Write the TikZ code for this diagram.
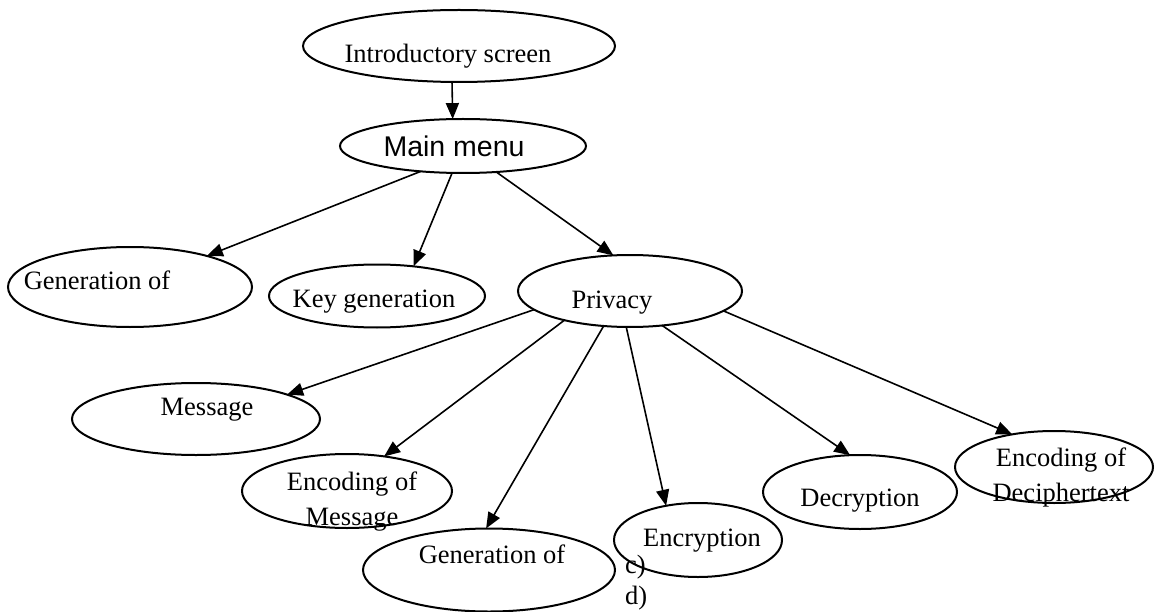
\documentclass[tikz,border=0pt]{standalone}
\usepackage{fontspec}
\setmainfont{Liberation Serif}
\newfontfamily\arialfont{Liberation Sans}
\usetikzlibrary{shapes.geometric,arrows.meta}

\begin{document}
\begin{tikzpicture}[x=1pt,y=-1pt,
  oval/.style={draw=black,line width=2pt,ellipse,inner sep=0pt,outer sep=0pt},
  lbl/.style={anchor=base,inner sep=0pt,font=\fontsize{26.5}{30}\selectfont},
  link/.style={line width=1.6pt,-{Triangle[length=16pt,width=13pt]}}]
\useasboundingbox (0,0) rectangle (1155,612);

% screens
\node[oval,minimum width=312pt,minimum height=72pt] (intro) at (459,46) {};
\node[oval,minimum width=246pt,minimum height=54pt] (main) at (463,146) {};
\node[oval,minimum width=244pt,minimum height=80pt] (gen1) at (130,287) {};
\node[oval,minimum width=216pt,minimum height=63pt] (keygen) at (377,296) {};
\node[oval,minimum width=224pt,minimum height=72pt] (privacy) at (630,291) {};
\node[oval,minimum width=248pt,minimum height=72pt] (message) at (196,419) {};
\node[oval,minimum width=210pt,minimum height=74pt] (encmsg) at (347,491) {};
\node[oval,minimum width=252pt,minimum height=83pt] (gen2) at (489,570) {};
\node[oval,minimum width=168pt,minimum height=74pt] (encryption) at (698,540) {};
\node[oval,minimum width=194pt,minimum height=74pt] (decryption) at (860,492) {};
\node[oval,minimum width=198pt,minimum height=72pt] (encdec) at (1054,467) {};

% captions
\node[lbl] (t-intro) at (448,63) {Introductory screen};
\node[lbl,font=\arialfont\fontsize{28.5}{32}\selectfont] (t-main) at (454,157) {Main menu};
\node[lbl] (t-gen1) at (97,289) {Generation of};
\node[lbl] (t-key) at (374,307) {Key generation};
\node[lbl] (t-priv) at (612,308) {Privacy};
\node[lbl] (t-msg) at (207,415) {Message};
\node[lbl] (t-enc1) at (352,490) {Encoding of};
\node[lbl] (t-enc2) at (352,525) {Message};
\node[lbl] (t-gen2) at (492,563) {Generation of};
\node[lbl] (t-encr) at (702,546) {Encryption};
\node[lbl] (t-decr) at (860,506) {Decryption};
\node[lbl] (t-ed1) at (1061,466) {Encoding of};
\node[lbl] (t-ed2) at (1061,501) {Deciphertext};
\node[lbl,anchor=base west] (t-c) at (625,573) {c)};
\node[lbl,anchor=base west] (t-d) at (625,604) {d)};

% navigation
\draw[link] (intro.-101) -- (main.111);
\draw[link] (main.-149) -- (gen1.22);
\draw[link] (main.-112) -- (keygen.39);
\draw[link] (main.-38.5) -- (privacy.115);
\draw[link] (privacy.-169) -- (message.15);
\draw[link] (privacy.-156.6) -- (encmsg.43);
\draw[link] (privacy.-127) -- (gen2.94);
\draw[link] (privacy.-96) -- (encryption.133);
\draw[link] (privacy.-47.5) -- (decryption.105);
\draw[link] (privacy.-12) -- (encdec.142);
\end{tikzpicture}
\end{document}
